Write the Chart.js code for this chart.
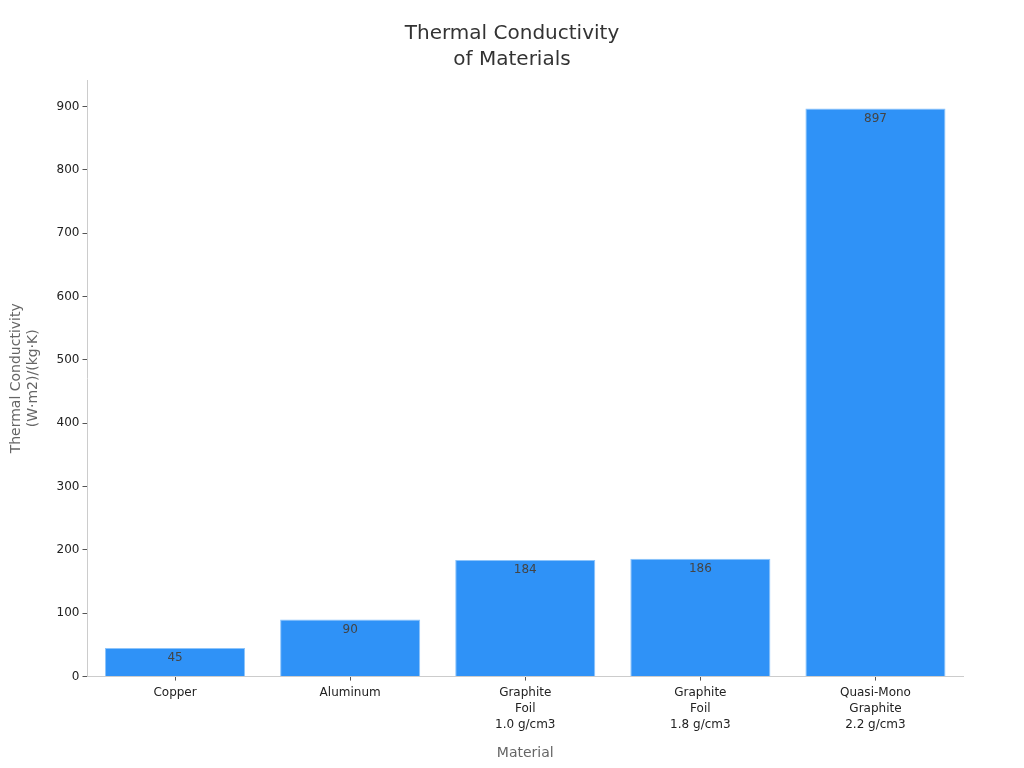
<!DOCTYPE html>
<html>
<head>
<meta charset="utf-8">
<script src="https://cdn.jsdelivr.net/npm/chart.js@4"></script>
<style>
  html, body { margin: 0; padding: 0; background: #fff; }
  #wrap { width: 1024px; height: 768px; }
</style>
</head>
<body>
<div id="wrap"><canvas id="chart" width="1024" height="768"></canvas></div>
<script>
const materials = [
  "Copper",
  "Aluminum",
  ["Graphite", "Foil", "1.0 g/cm3"],
  ["Graphite", "Foil", "1.8 g/cm3"],
  ["Quasi-Mono", "Graphite", "2.2 g/cm3"],
];
const conductivity = [45, 90, 184, 186, 897];
const yTicks = [0, 100, 200, 300, 400, 500, 600, 700, 800, 900];
const titleLines = ["Thermal Conductivity", "of Materials"];

// values drawn inside the top of each bar
const barLabels = {
  id: "barLabels",
  afterDatasetsDraw(chart) {
    const ctx = chart.ctx;
    const meta = chart.getDatasetMeta(0);
    ctx.save();
    ctx.font = "12px 'DejaVu Sans'";
    ctx.fillStyle = "#444";
    ctx.textAlign = "center";
    ctx.textBaseline = "middle";
    meta.data.forEach((bar, i) => {
      ctx.fillText(String(conductivity[i]), bar.x, bar.y + 10);
    });
    ctx.restore();
  },
};

// title centred on the whole canvas, not the padded layout box
const centredTitle = {
  id: "centredTitle",
  afterDraw(chart) {
    const ctx = chart.ctx;
    ctx.save();
    ctx.font = "20px 'DejaVu Sans'";
    ctx.fillStyle = "#333";
    ctx.textAlign = "center";
    ctx.textBaseline = "middle";
    titleLines.forEach((line, i) => {
      ctx.fillText(line, chart.width / 2, 34 + i * 26);
    });
    ctx.restore();
  },
};

Chart.defaults.font.family = "'DejaVu Sans', sans-serif";

new Chart(document.getElementById("chart"), {
  type: "bar",
  data: {
    labels: materials,
    datasets: [
      {
        data: conductivity,
        backgroundColor: "#2f92f7",
        borderColor: "#8cc4fb",
        borderWidth: 1,
        barPercentage: 0.8,
        categoryPercentage: 1,
      },
    ],
  },
  options: {
    responsive: false,
    animation: false,
    layout: { padding: { left: 4, right: 61, top: 0, bottom: 2 } },
    plugins: {
      legend: { display: false },
      tooltip: { enabled: false },
      title: {
        display: true,
        text: titleLines,
        color: "rgba(0,0,0,0)",
        font: { size: 20, weight: "normal" },
        padding: { top: 24, bottom: 8 },
        lineHeight: 1.3,
      },
    },
    scales: {
      x: {
        grid: { offset: false, drawOnChartArea: false, drawTicks: true, tickLength: 4, color: "#555" },
        border: { color: "#ccc" },
        ticks: { color: "#222", font: { size: 12, lineHeight: 1.35 }, padding: 4 },
        title: {
          display: true,
          text: "Material",
          color: "#666",
          font: { size: 14 },
          padding: { top: 8 },
        },
      },
      y: {
        min: 0,
        max: 942,
        afterBuildTicks: (axis) => {
          axis.ticks = yTicks.map((v) => ({ value: v }));
        },
        grid: { drawOnChartArea: false, drawTicks: true, tickLength: 5, color: "#555" },
        border: { color: "#ccc" },
        ticks: { color: "#222", font: { size: 12 }, padding: 3 },
        title: {
          display: true,
          text: ["Thermal Conductivity", "(W·m2)/(kg·K)"],
          color: "#666",
          font: { size: 14 },
          padding: { bottom: 12 },
        },
      },
    },
  },
  plugins: [barLabels, centredTitle],
});
</script>
</body>
</html>
